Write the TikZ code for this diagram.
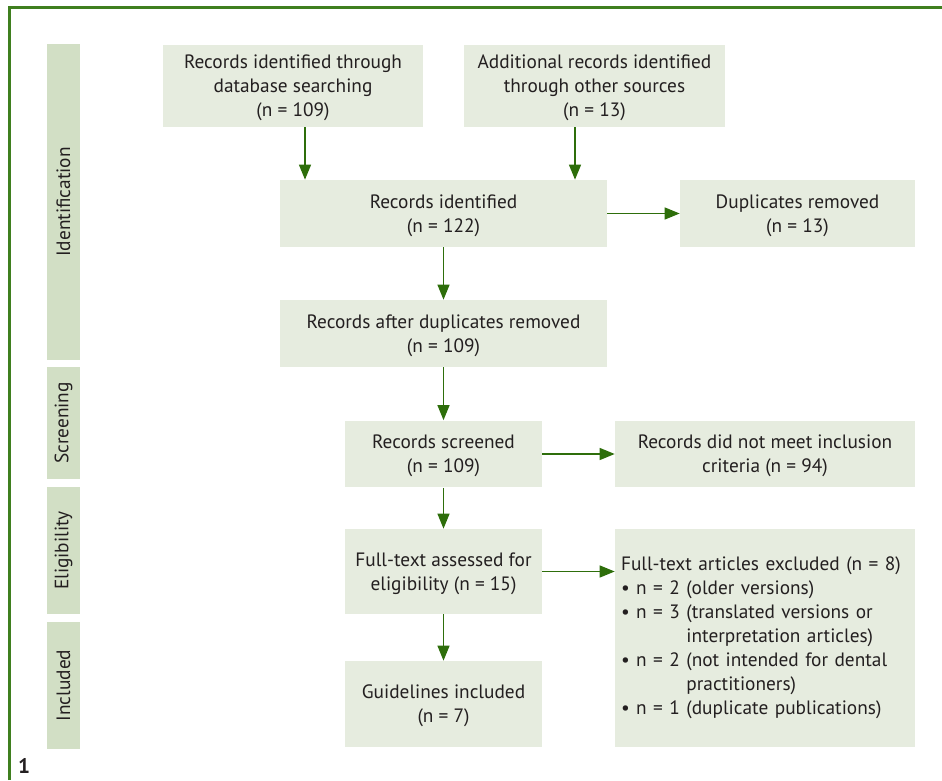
\documentclass[tikz,border=0pt]{standalone}
\usepackage{fontspec}
\setmainfont{PT Sans}
\usepackage{tikz}
\usetikzlibrary{arrows.meta}
\definecolor{boxfill}{HTML}{E6ECDF}
\definecolor{phasefill}{HTML}{D2DFC5}
\definecolor{flowgreen}{HTML}{2E6E0B}
\definecolor{framegreen}{HTML}{3F7F1F}
\definecolor{inkgray}{HTML}{231F20}

\begin{document}
\begin{tikzpicture}[x=0.02cm,y=-0.02cm,
  every node/.style={text=inkgray,font=\fontsize{11}{13.66}\selectfont},
  box/.style={fill=boxfill,inner sep=0pt,align=center,text depth=0pt},
  phase/.style={fill=phasefill,inner sep=0pt,rotate=90,minimum height=0.66cm},
  flow/.style={draw=flowgreen,line width=0.75pt,-{Triangle[length=0.3cm,width=0.24cm]}}]
\useasboundingbox (0,0) rectangle (942,780);
\draw[framegreen,line width=1.2pt] (9.5,780) -- (9.5,7.5) -- (942,7.5);
\node[font=\fontsize{12}{14}\selectfont\bfseries] (fignum) at (24,766) {1};

% phases
\node[phase,minimum width=6.32cm] (ident) at (63.5,202) {Identification};
\node[phase,minimum width=2.24cm] (screen) at (63.5,423) {Screening};
\node[phase,minimum width=2.54cm] (elig) at (63.5,550.5) {Eligibility};
\node[phase,minimum width=2.54cm] (incl) at (63.5,685.5) {Included};

% boxes
\node[box,minimum width=5.2cm,minimum height=1.64cm] (dbase) at (293,86)
  {Records identified through\\database searching\\(n = 109)};
\node[box,minimum width=5.22cm,minimum height=1.64cm] (other) at (594.5,86)
  {Additional records identified\\through other sources\\(n = 13)};
\node[box,minimum width=6.54cm,minimum height=1.34cm] (ident122) at (443.5,213.5)
  {Records identified\\(n = 122)};
\node[box,minimum width=4.7cm,minimum height=1.34cm] (dupl) at (797.5,213.5)
  {Duplicates removed\\(n = 13)};
\node[box,minimum width=6.54cm,minimum height=1.34cm] (after) at (443.5,333.5)
  {Records after duplicates removed\\(n = 109)};
\node[box,minimum width=3.94cm,minimum height=1.34cm] (screened) at (443.5,454)
  {Records screened\\(n = 109)};
\node[box,minimum width=6cm,minimum height=1.34cm] (notmet) at (765,454)
  {Records did not meet inclusion\\criteria (n = 94)};
\node[box,minimum width=3.94cm,minimum height=1.7cm] (fulltext) at (443.5,571.5)
  {Full-text assessed for\\eligibility (n = 15)};
\node[box,text depth={},text width=5.76cm,inner xsep=0.12cm,minimum height=4.36cm,align=left] (excl) at (765,638)
  {Full-text articles excluded (n = 8)\\
   • n = 2 (older versions)\\
   • n = 3 (translated versions or\\
   \hphantom{• n = 3 }interpretation articles)\\
   • n = 2 (not intended for dental\\
   \hphantom{• n = 2 }practitioners)\\
   • n = 1 (duplicate publications)};
\node[box,minimum width=3.94cm,minimum height=1.72cm] (guide) at (443.5,704)
  {Guidelines included\\(n = 7)};

% connectors
\draw[flow] ([xshift=0.24cm]dbase.south) -- ([xshift=0.24cm]dbase.south |- ident122.north);
\draw[flow] ([xshift=-0.39cm]other.south) -- ([xshift=-0.39cm]other.south |- ident122.north);
\draw[flow] (ident122) -- (dupl);
\draw[flow] (ident122) -- (after);
\draw[flow] (after) -- (screened);
\draw[flow] (screened) -- (notmet);
\draw[flow] (screened) -- (fulltext);
\draw[flow] (fulltext.east) -- (fulltext.east -| excl.west);
\draw[flow] (fulltext) -- (guide);
\end{tikzpicture}
\end{document}
